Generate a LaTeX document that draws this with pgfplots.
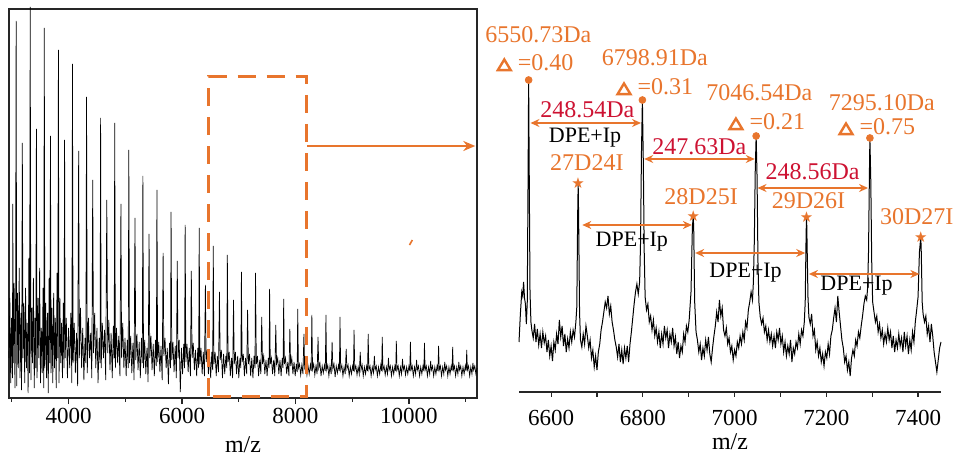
\documentclass[border=0pt]{standalone}
\usepackage{pgfplots}
\pgfplotsset{compat=1.18}
\usepackage{fontspec}
\setmainfont{Liberation Serif}
\newfontfamily\dejavu{DejaVu Sans}
\usetikzlibrary{arrows.meta}
\definecolor{orC}{RGB}{232,117,45}
\definecolor{rdC}{RGB}{205,18,50}
\newcommand\fsa{\fontsize{12}{14}\selectfont}
\newcommand\fsb{\fontsize{11}{13}\selectfont}
\newsavebox\tribox
\newcommand\tri{\usebox\tribox}
\begin{document}
\sbox\tribox{\tikz[baseline=0pt]\draw[orC, line width=1.2pt, line join=miter] (0,0.3pt) -- (6.4pt,0.3pt) -- (3.2pt,5.6pt) -- cycle;}%
\begin{tikzpicture}
\path[use as bounding box] (0,0) rectangle (479pt,-229.5pt);
% ---------------- left panel ----------------
\begin{axis}[
 at={(4.5pt,-199pt)}, anchor=south west, scale only axis,
 width=234pt, height=194.5pt,
 xmin=2950, xmax=11200, ymin=0, ymax=389,
 ytick=\empty, xtick={4000,6000,8000,10000}, minor xtick={3000,5000,7000,9000,11000},
 xtick pos=bottom, tick align=outside, major tick length=3pt, minor tick length=1.8pt,
 scaled x ticks=false,
 /pgf/number format/1000 sep={}, /pgf/number format/assume math mode=true,
 tick label style={font=\fontsize{11.5}{12}\selectfont},
 xticklabel style={anchor=center, yshift=-6pt},
 xlabel={m/z}, xlabel style={font=\fsa, at={(axis description cs:0.5,0)}, anchor=center, yshift=-23.5pt},
 axis line style={line width=0.75pt, black!85},
 every tick/.style={black!85, line width=0.6pt},
 clip=false,
]
\addplot[black, line width=0.35pt] table[row sep=\\] {x y\\
2950 40\\ 2965 100\\ 2980 15\\ 2995 80\\ 3010 20\\ 3017 194\\ 3024 35\\ 3040 115\\ 3055 10\\ 3066 90\\
3076 377\\ 3086 12\\ 3100 105\\ 3115 30\\ 3130 130\\ 3145 20\\ 3160 85\\ 3172 8\\ 3185 255\\ 3197 40\\
3212 95\\ 3227 15\\ 3242 110\\ 3257 30\\ 3272 75\\ 3287 5\\ 3300 140\\ 3312 25\\ 3324 391\\ 3336 18\\
3350 90\\ 3365 35\\ 3380 120\\ 3395 10\\ 3410 80\\ 3422 30\\ 3433 269\\ 3445 20\\ 3460 100\\ 3475 40\\
3490 130\\ 3505 15\\ 3520 70\\ 3535 25\\ 3550 110\\ 3562 10\\ 3572 370\\ 3582 30\\ 3597 95\\ 3612 20\\
3627 85\\ 3642 5\\ 3657 120\\ 3670 35\\ 3681 262\\ 3692 25\\ 3707 90\\ 3722 15\\ 3737 105\\ 3752 30\\
3767 80\\ 3782 10\\ 3797 125\\ 3810 40\\ 3821 348\\ 3832 15\\ 3847 100\\ 3862 35\\ 3877 75\\ 3892 20\\
3907 95\\ 3920 30\\ 3930 258\\ 3940 40\\ 3960 80\\ 3980 20\\ 4000 70\\ 4020 30\\ 4040 85\\ 4058 15\\
4069 334\\ 4080 35\\ 4100 75\\ 4120 25\\ 4140 65\\ 4160 12\\ 4178 247\\ 4190 40\\ 4210 90\\ 4230 30\\
4250 70\\ 4270 18\\ 4290 60\\ 4305 35\\ 4317 301\\ 4330 25\\ 4350 80\\ 4370 40\\ 4390 65\\ 4410 20\\
4426 218\\ 4440 45\\ 4460 85\\ 4480 30\\ 4500 70\\ 4520 15\\ 4540 60\\ 4555 35\\ 4565 280\\ 4575 30\\
4595 75\\ 4615 40\\ 4635 68\\ 4655 18\\ 4674 198\\ 4690 45\\ 4710 78\\ 4730 28\\ 4750 65\\ 4770 20\\
4790 72\\ 4804 40\\ 4814 275\\ 4825 30\\ 4845 70\\ 4865 35\\ 4885 62\\ 4905 22\\ 4923 194\\ 4935 40\\
4955 75\\ 4975 30\\ 4995 60\\ 5015 22\\ 5035 58\\ 5052 30\\ 5062 248\\ 5075 35\\ 5095 62\\ 5115 25\\
5135 55\\ 5155 18\\ 5171 180\\ 5185 38\\ 5205 64\\ 5225 28\\ 5245 56\\ 5265 20\\ 5285 60\\ 5300 35\\
5310 222\\ 5322 30\\ 5342 58\\ 5362 24\\ 5382 50\\ 5402 16\\ 5419 164\\ 5432 40\\ 5452 62\\ 5472 28\\
5492 54\\ 5512 22\\ 5532 58\\ 5548 32\\ 5558 208\\ 5570 36\\ 5590 56\\ 5610 26\\ 5630 52\\ 5650 18\\
5667 145\\ 5680 42\\ 5700 60\\ 5720 30\\ 5740 50\\ 5760 14\\ 5780 55\\ 5797 30\\ 5807 186\\ 5820 38\\
5840 56\\ 5860 26\\ 5880 52\\ 5900 20\\ 5916 137\\ 5930 40\\ 5950 58\\ 5970 6\\ 5990 50\\ 6010 24\\
6030 54\\ 6045 30\\ 6055 173\\ 6068 36\\ 6088 54\\ 6108 26\\ 6128 50\\ 6148 22\\ 6164 127\\ 6178 40\\
6198 55\\ 6218 28\\ 6238 48\\ 6258 22\\ 6278 50\\ 6293 30\\ 6303 170\\ 6315 34\\ 6335 50\\ 6355 24\\
6375 46\\ 6395 22\\ 6412 113\\ 6425 36\\ 6445 48\\ 6465 24\\ 6485 44\\ 6505 20\\ 6525 46\\ 6540 28\\
6551 152\\ 6563 34\\ 6583 46\\ 6603 22\\ 6623 42\\ 6643 26\\ 6660 106\\ 6673 38\\ 6693 48\\ 6713 20\\
6733 44\\ 6753 24\\ 6773 42\\ 6789 30\\ 6799 143\\ 6812 36\\ 6832 46\\ 6852 22\\ 6872 40\\ 6892 20\\
6908 98\\ 6921 34\\ 6941 46\\ 6961 24\\ 6981 42\\ 7001 20\\ 7021 40\\ 7037 30\\ 7047 126\\ 7060 36\\
7080 44\\ 7100 22\\ 7120 40\\ 7140 24\\ 7156 88\\ 7170 34\\ 7190 44\\ 7210 22\\ 7230 40\\ 7250 20\\
7270 42\\ 7286 30\\ 7296 125\\ 7310 34\\ 7330 42\\ 7350 22\\ 7370 38\\ 7390 24\\ 7405 81\\ 7420 34\\
7440 42\\ 7460 24\\ 7480 38\\ 7500 22\\ 7520 40\\ 7535 30\\ 7544 109\\ 7556 34\\ 7576 40\\ 7596 24\\
7616 38\\ 7636 22\\ 7653 73\\ 7667 34\\ 7687 40\\ 7707 24\\ 7727 38\\ 7747 22\\ 7767 40\\ 7782 30\\
7792 99\\ 7805 34\\ 7825 40\\ 7845 24\\ 7865 36\\ 7885 22\\ 7901 69\\ 7915 32\\ 7935 40\\ 7955 24\\
7975 36\\ 7995 22\\ 8015 34\\ 8030 26\\ 8040 89\\ 8052 30\\ 8072 34\\ 8092 23\\ 8112 33\\ 8132 24\\
8149 64\\ 8162 30\\ 8182 34\\ 8202 23\\ 8222 32\\ 8242 24\\ 8262 33\\ 8277 27\\ 8289 83\\ 8301 29\\
8321 34\\ 8341 23\\ 8361 32\\ 8381 24\\ 8398 61\\ 8411 30\\ 8431 35\\ 8451 22\\ 8471 32\\ 8491 25\\
8511 33\\ 8526 27\\ 8537 83\\ 8549 28\\ 8569 33\\ 8589 22\\ 8609 32\\ 8629 24\\ 8646 56\\ 8659 29\\
8679 34\\ 8699 21\\ 8719 32\\ 8739 25\\ 8759 33\\ 8774 27\\ 8785 81\\ 8797 28\\ 8817 33\\ 8837 22\\
8857 31\\ 8877 24\\ 8894 49\\ 8907 29\\ 8927 33\\ 8947 22\\ 8967 31\\ 8987 24\\ 9007 32\\ 9022 27\\
9033 68\\ 9045 28\\ 9065 32\\ 9085 23\\ 9105 31\\ 9125 24\\ 9142 46\\ 9155 28\\ 9175 33\\ 9195 22\\
9215 31\\ 9235 24\\ 9255 32\\ 9270 27\\ 9282 64\\ 9294 28\\ 9314 32\\ 9334 22\\ 9354 31\\ 9374 25\\
9391 42\\ 9404 28\\ 9424 32\\ 9444 22\\ 9464 31\\ 9484 24\\ 9504 33\\ 9519 27\\ 9530 61\\ 9542 28\\
9562 32\\ 9582 23\\ 9602 31\\ 9622 24\\ 9639 40\\ 9652 28\\ 9672 32\\ 9692 22\\ 9712 31\\ 9732 24\\
9752 32\\ 9767 27\\ 9778 57\\ 9790 28\\ 9810 32\\ 9830 22\\ 9850 31\\ 9870 24\\ 9887 39\\ 9900 28\\
9920 32\\ 9940 23\\ 9960 31\\ 9980 24\\ 10000 32\\ 10015 27\\ 10026 56\\ 10038 28\\ 10058 32\\ 10078 22\\
10098 31\\ 10118 24\\ 10135 38\\ 10148 28\\ 10168 32\\ 10188 22\\ 10208 31\\ 10228 24\\ 10248 32\\ 10263 27\\
10274 55\\ 10286 28\\ 10306 32\\ 10326 22\\ 10346 31\\ 10366 24\\ 10383 37\\ 10396 28\\ 10416 32\\ 10436 22\\
10456 31\\ 10476 24\\ 10496 32\\ 10511 27\\ 10523 52\\ 10535 28\\ 10555 32\\ 10575 22\\ 10595 31\\ 10615 24\\
10632 36\\ 10645 28\\ 10665 32\\ 10685 22\\ 10705 31\\ 10725 24\\ 10745 32\\ 10760 27\\ 10771 51\\ 10783 28\\
10803 32\\ 10823 22\\ 10843 31\\ 10863 24\\ 10880 36\\ 10893 28\\ 10913 32\\ 10933 22\\ 10953 31\\ 10973 24\\
10993 32\\ 11008 27\\ 11019 48\\ 11031 28\\ 11051 32\\ 11071 22\\ 11091 31\\ 11111 24\\ 11128 35\\ 11141 28\\
11161 32\\ 11181 24\\ 11200 30\\
};
\draw[orC, line width=1.5pt, dash pattern=on 9pt off 5.5pt] (axis cs:6470,2) rectangle (axis cs:8200,321);
\draw[orC, line width=1.15pt, -{Stealth[length=6pt,width=5pt]}] (axis cs:8200,252) -- (axis cs:11170,252);
\draw[orC, line width=0.8pt] (axis cs:10010,153) -- (axis cs:10060,158);
\end{axis}
% ---------------- right panel ----------------
\begin{axis}[
 at={(259.5pt,-196pt)}, anchor=south west, scale only axis,
 width=211pt, height=196pt,
 xmin=6530, xmax=7450, ymin=0, ymax=392,
 axis x line=bottom, axis y line=none, ytick=\empty,
 axis line style={-, line width=1pt, black!85}, x axis line style={-},
 xtick={6600,6800,7000,7200,7400}, minor xtick={6700,6900,7100,7300},
 tick align=outside, major tick length=2.5pt, minor tick length=2.5pt,
 every tick/.style={black!85, line width=0.6pt},
 scaled x ticks=false,
 /pgf/number format/1000 sep={}, /pgf/number format/assume math mode=true,
 tick label style={font=\fontsize{11.5}{12}\selectfont},
 xticklabel style={anchor=center, yshift=-10.5pt},
 xlabel={m/z}, xlabel style={font=\fsa, at={(axis description cs:0.5,0)}, anchor=center, yshift=-25pt},
 clip=false,
]
\addplot[black, line width=0.5pt] table[row sep=\\] {x y\\
6530 50\\ 6533 78\\ 6536 100\\ 6538 96\\ 6540 110\\ 6542 94\\ 6544 88\\ 6546 68\\ 6548 90\\ 6550 230\\
6551 312\\ 6552 240\\ 6554 100\\ 6556 70\\ 6558 62\\ 6561 54\\ 6564 68\\ 6567 50\\ 6570 63\\ 6573 47\\
6576 58\\ 6579 44\\ 6582 60\\ 6585 49\\ 6588 56\\ 6591 40\\ 6594 52\\ 6597 36\\ 6600 46\\ 6603 31\\
6606 50\\ 6609 42\\ 6612 58\\ 6615 48\\ 6618 72\\ 6621 55\\ 6624 66\\ 6627 46\\ 6630 58\\ 6633 40\\
6636 53\\ 6639 44\\ 6642 60\\ 6645 50\\ 6648 62\\ 6651 55\\ 6654 70\\ 6656 85\\ 6658 180\\ 6659 209\\
6660 175\\ 6662 80\\ 6664 52\\ 6667 45\\ 6670 58\\ 6673 48\\ 6676 66\\ 6679 56\\ 6682 44\\ 6685 52\\
6688 34\\ 6691 42\\ 6694 25\\ 6697 36\\ 6700 22\\ 6703 40\\ 6706 48\\ 6709 62\\ 6712 70\\ 6715 80\\
6718 90\\ 6721 84\\ 6724 96\\ 6727 78\\ 6730 86\\ 6733 70\\ 6736 62\\ 6739 52\\ 6742 45\\ 6745 35\\
6748 48\\ 6751 30\\ 6754 42\\ 6757 28\\ 6760 44\\ 6763 34\\ 6766 46\\ 6769 30\\ 6772 48\\ 6775 60\\
6778 74\\ 6781 88\\ 6784 100\\ 6787 108\\ 6790 98\\ 6793 110\\ 6795 150\\ 6797 240\\ 6799 292\\ 6801 230\\
6803 140\\ 6805 95\\ 6808 82\\ 6811 88\\ 6814 70\\ 6817 76\\ 6820 62\\ 6823 72\\ 6826 56\\ 6829 64\\
6832 50\\ 6835 60\\ 6838 44\\ 6841 58\\ 6844 48\\ 6847 66\\ 6850 54\\ 6853 62\\ 6856 44\\ 6859 58\\
6862 50\\ 6865 64\\ 6868 46\\ 6871 55\\ 6874 38\\ 6877 50\\ 6880 34\\ 6883 46\\ 6886 40\\ 6889 58\\
6892 50\\ 6895 66\\ 6898 60\\ 6901 72\\ 6905 100\\ 6908 165\\ 6910 176\\ 6911 160\\ 6913 90\\ 6916 60\\
6919 52\\ 6922 40\\ 6925 48\\ 6928 32\\ 6931 44\\ 6934 36\\ 6937 52\\ 6940 42\\ 6943 55\\ 6946 38\\
6949 30\\ 6952 44\\ 6955 56\\ 6958 66\\ 6961 80\\ 6964 70\\ 6967 92\\ 6970 76\\ 6973 84\\ 6976 62\\
6979 56\\ 6982 64\\ 6985 48\\ 6988 54\\ 6991 40\\ 6994 46\\ 6997 32\\ 7000 42\\ 7003 36\\ 7006 50\\
7009 44\\ 7012 56\\ 7015 48\\ 7018 60\\ 7021 52\\ 7024 70\\ 7027 64\\ 7030 82\\ 7033 90\\ 7036 100\\
7039 92\\ 7041 110\\ 7043 150\\ 7045 220\\ 7047 256\\ 7049 215\\ 7051 130\\ 7053 90\\ 7056 75\\ 7059 68\\
7062 74\\ 7065 60\\ 7068 66\\ 7071 52\\ 7074 62\\ 7077 50\\ 7080 58\\ 7083 46\\ 7086 56\\ 7089 44\\
7092 60\\ 7095 52\\ 7098 64\\ 7101 48\\ 7104 56\\ 7107 40\\ 7110 50\\ 7113 36\\ 7116 46\\ 7119 38\\
7122 52\\ 7125 30\\ 7128 44\\ 7131 38\\ 7134 50\\ 7137 44\\ 7140 58\\ 7143 48\\ 7146 62\\ 7149 56\\
7152 70\\ 7154 90\\ 7156 160\\ 7157 175\\ 7158 150\\ 7160 95\\ 7162 75\\ 7165 68\\ 7168 78\\ 7171 56\\
7174 62\\ 7177 42\\ 7180 50\\ 7183 36\\ 7186 44\\ 7189 30\\ 7192 38\\ 7195 26\\ 7198 40\\ 7201 34\\
7204 48\\ 7207 38\\ 7210 56\\ 7213 62\\ 7216 74\\ 7219 84\\ 7222 70\\ 7225 96\\ 7228 80\\ 7231 66\\
7234 52\\ 7237 44\\ 7240 30\\ 7243 36\\ 7246 22\\ 7249 30\\ 7252 16\\ 7255 34\\ 7258 42\\ 7261 36\\
7264 52\\ 7267 46\\ 7270 60\\ 7273 54\\ 7276 66\\ 7279 76\\ 7282 88\\ 7285 96\\ 7288 92\\ 7290 104\\
7292 140\\ 7294 220\\ 7295 254\\ 7297 210\\ 7299 130\\ 7301 90\\ 7304 80\\ 7307 70\\ 7310 76\\ 7313 60\\
7316 68\\ 7319 54\\ 7322 62\\ 7325 48\\ 7328 58\\ 7331 50\\ 7334 64\\ 7337 52\\ 7340 60\\ 7343 44\\
7346 56\\ 7349 40\\ 7352 52\\ 7355 44\\ 7358 58\\ 7361 46\\ 7364 54\\ 7367 40\\ 7370 60\\ 7373 46\\
7376 56\\ 7379 38\\ 7382 52\\ 7385 42\\ 7388 60\\ 7391 50\\ 7394 70\\ 7397 82\\ 7400 95\\ 7403 140\\
7406 155\\ 7407 140\\ 7409 90\\ 7411 78\\ 7414 70\\ 7417 76\\ 7420 58\\ 7423 66\\ 7426 50\\ 7429 68\\
7432 56\\ 7435 40\\ 7438 30\\ 7441 20\\ 7444 32\\ 7447 44\\ 7450 50\\
};
\addplot[only marks, mark=*, mark size=1.7pt, color=orC] coordinates {(6551,312) (6799,292) (7047,256) (7295,254)};
\addplot[only marks, color=orC, mark=text, text mark={\color{orC}\dejavu\fontsize{7.5}{7.5}\selectfont ★}, mark options={orC}] coordinates {(6659,209) (6910,176) (7157,175) (7406,155)};
% arrows
\draw[orC, line width=0.9pt, {Stealth[length=4.5pt,width=4pt]}-{Stealth[length=4.5pt,width=4pt]}] (axis cs:6555,269) -- (axis cs:6796,269);
\draw[orC, line width=0.9pt, {Stealth[length=4.5pt,width=4pt]}-{Stealth[length=4.5pt,width=4pt]}] (axis cs:6803,233) -- (axis cs:7044,233);
\draw[orC, line width=0.9pt, {Stealth[length=4.5pt,width=4pt]}-{Stealth[length=4.5pt,width=4pt]}] (axis cs:7050,204) -- (axis cs:7291,204);
\draw[orC, line width=0.9pt, {Stealth[length=4.5pt,width=4pt]}-{Stealth[length=4.5pt,width=4pt]}] (axis cs:6668,167) -- (axis cs:6907,167);
\draw[orC, line width=0.9pt, {Stealth[length=4.5pt,width=4pt]}-{Stealth[length=4.5pt,width=4pt]}] (axis cs:6914,139) -- (axis cs:7154,139);
\draw[orC, line width=0.9pt, {Stealth[length=4.5pt,width=4pt]}-{Stealth[length=4.5pt,width=4pt]}] (axis cs:7162,118) -- (axis cs:7403,118);
% labels
\node[orC, font=\fsa] at (axis cs:6572,357) {6550.73Da};
\node[orC, font=\fsa] at (axis cs:6565,329) {\tri\ =0.40};
\node[orC, font=\fsa] at (axis cs:6826,334) {6798.91Da};
\node[orC, font=\fsa] at (axis cs:6826,305) {\tri\ =0.31};
\node[orC, font=\fsa] at (axis cs:7054,299) {7046.54Da};
\node[orC, font=\fsa] at (axis cs:7070,270) {\tri\ =0.21};
\node[orC, font=\fsa] at (axis cs:7321,289) {7295.10Da};
\node[orC, font=\fsa] at (axis cs:7310,265) {\tri\ =0.75};
\node[rdC, font=\fsa] at (axis cs:6679,282) {248.54Da};
\node[rdC, font=\fsa] at (axis cs:6923,245) {247.63Da};
\node[rdC, font=\fsa] at (axis cs:7170,220) {248.56Da};
\node[black, font=\fsb] at (axis cs:6674,254) {DPE+Ip};
\node[black, font=\fsb] at (axis cs:6776,150) {DPE+Ip};
\node[black, font=\fsb] at (axis cs:7024,119) {DPE+Ip};
\node[black, font=\fsb] at (axis cs:7266,106) {DPE+Ip};
\node[orC, font=\fsa] at (axis cs:6678,229) {27D24I};
\node[orC, font=\fsa] at (axis cs:6927,195) {28D25I};
\node[orC, font=\fsa] at (axis cs:7161,191) {29D26I};
\node[orC, font=\fsa] at (axis cs:7397,175) {30D27I};
\end{axis}
\end{tikzpicture}
\end{document}
